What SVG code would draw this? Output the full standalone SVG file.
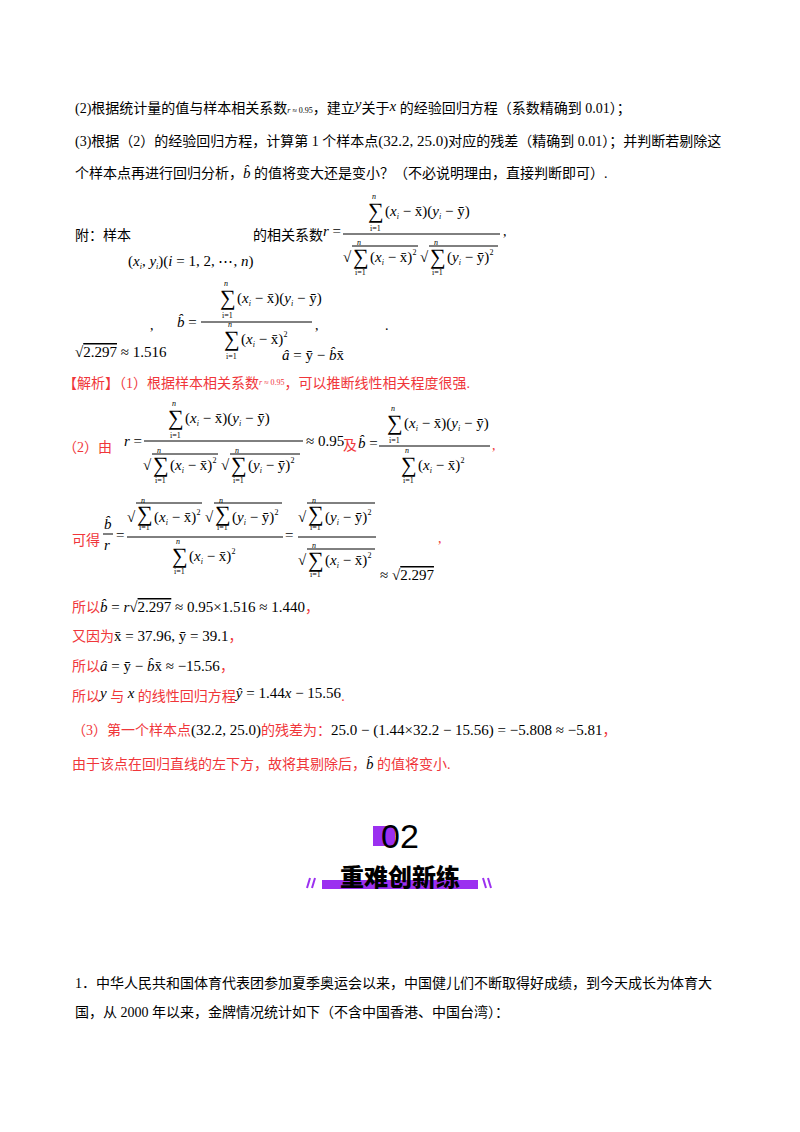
<svg xmlns="http://www.w3.org/2000/svg" width="800" height="1132" viewBox="0 0 800 1132">
<style>
text{font-family:"Liberation Serif","Noto Sans CJK SC",serif;font-size:14px;fill:#000}
.r{fill:#f0363a}
.m{font-family:"Liberation Serif",serif;font-size:15px}
.i{font-style:italic}
.s{font-size:8px;font-family:"Liberation Serif",serif}
.lo{transform:translateY(5px)}
.hi{transform:translateY(-3px)}
.sg{font-size:22px;font-family:"Liberation Serif",serif}
line.f{stroke:#000;stroke-width:1}
</style>
<rect width="800" height="1132" fill="#fff"/>
<g id="question">
<text x="75" y="113">(2)根据统计量的值与样本相关系数<tspan class="s i" font-size="9">r</tspan><tspan class="s" font-size="9"> ≈ 0.95</tspan>，建立<tspan class="m i" dy="-4">y</tspan><tspan dy="4">关于</tspan><tspan class="m i" dy="-2">x</tspan><tspan dy="2"> 的经验回归方程（系数精确到 0.01）；</tspan></text>
<text x="75" y="146">(3)根据（2）的经验回归方程，计算第 1 个样本点<tspan class="m" font-size="17">(32.2, 25.0)</tspan>对应的残差（精确到 0.01）；并判断若剔除这</text>
<text x="75" y="178">个样本点再进行回归分析，<tspan class="m i">b̂</tspan> 的值将变大还是变小？（不必说明理由，直接判断即可）.</text>
<text x="75" y="240">附：样本</text>
<text class="m" x="128" y="266">(<tspan class="i">x</tspan><tspan class="s i" dy="3">i</tspan><tspan dy="-3">, </tspan><tspan class="i">y</tspan><tspan class="s i" dy="3">i</tspan><tspan dy="-3">)(</tspan><tspan class="i">i</tspan> = 1, 2, ⋯, <tspan class="i">n</tspan>)</text>
<text x="253" y="240">的相关系数<tspan class="m i" dy="-4">r</tspan><tspan class="m" dy="0"> =</tspan></text>
<text class="sg" x="368" y="218">∑</text><text class="s i hi" x="372" y="202">n</text><text class="s lo" x="370" y="226">i=1</text>
<text class="m" x="385" y="216">(<tspan class="i">x</tspan><tspan class="s i" dy="3">i</tspan><tspan dy="-3"> − x̄)(</tspan><tspan class="i">y</tspan><tspan class="s i" dy="3">i</tspan><tspan dy="-3"> − ȳ)</tspan></text>
<line class="f" x1="343" y1="234" x2="500" y2="234"/>
<text class="m" x="343" y="262">√</text><line class="f" x1="352" y1="246" x2="418" y2="246"/>
<text class="sg" x="353" y="264">∑</text><text class="s i hi" x="357" y="248">n</text><text class="s lo" x="355" y="270">i=1</text>
<text class="m" x="370" y="262">(<tspan class="i">x</tspan><tspan class="s i" dy="3">i</tspan><tspan dy="-3"> − x̄)</tspan><tspan class="s" dy="-7">2</tspan></text>
<text class="m" x="420" y="262">√</text><line class="f" x1="429" y1="246" x2="498" y2="246"/>
<text class="sg" x="430" y="264">∑</text><text class="s i hi" x="434" y="248">n</text><text class="s lo" x="432" y="270">i=1</text>
<text class="m" x="447" y="262">(<tspan class="i">y</tspan><tspan class="s i" dy="3">i</tspan><tspan dy="-3"> − ȳ)</tspan><tspan class="s" dy="-7">2</tspan></text>
<text x="503" y="236">,</text>
<text class="m" x="75" y="357">√<tspan text-decoration="overline">2.297</tspan> ≈ 1.516</text>
<text x="150" y="330">,</text>
<text class="m" x="177" y="327"><tspan class="i">b̂</tspan> =</text>
<text class="sg" x="220" y="305">∑</text><text class="s i hi" x="224" y="289">n</text><text class="s lo" x="222" y="313">i=1</text>
<text class="m" x="237" y="303">(<tspan class="i">x</tspan><tspan class="s i" dy="3">i</tspan><tspan dy="-3"> − x̄)(</tspan><tspan class="i">y</tspan><tspan class="s i" dy="3">i</tspan><tspan dy="-3"> − ȳ)</tspan></text>
<line class="f" x1="201" y1="322" x2="312" y2="322"/>
<text class="sg" x="224" y="346">∑</text><text class="s i hi" x="228" y="330">n</text><text class="s lo" x="226" y="354">i=1</text>
<text class="m" x="241" y="344">(<tspan class="i">x</tspan><tspan class="s i" dy="3">i</tspan><tspan dy="-3"> − x̄)</tspan><tspan class="s" dy="-7">2</tspan></text>
<text x="315" y="330">,</text>
<text x="385" y="330">.</text>
<text class="m" x="282" y="360"><tspan class="i">â</tspan> = ȳ − <tspan class="i">b̂</tspan>x̄</text>
</g>
<g id="solution">
<text class="r" x="63" y="388">【解析】（1）根据样本相关系数<tspan class="s i" font-size="9" dy="-3">r</tspan><tspan class="s" font-size="9"> ≈ 0.95</tspan><tspan dy="3">，可以推断线性相关程度很强.</tspan></text>
<text class="r" x="63" y="452">（2）由</text>
<text class="m i" x="124" y="446">r <tspan font-style="normal">=</tspan></text>
<text class="sg" x="168" y="425">∑</text><text class="s i hi" x="172" y="409">n</text><text class="s lo" x="170" y="433">i=1</text>
<text class="m" x="185" y="423">(<tspan class="i">x</tspan><tspan class="s i" dy="3">i</tspan><tspan dy="-3"> − x̄)(</tspan><tspan class="i">y</tspan><tspan class="s i" dy="3">i</tspan><tspan dy="-3"> − ȳ)</tspan></text>
<line class="f" x1="144" y1="441" x2="303" y2="441"/>
<text class="m" x="143" y="470">√</text><line class="f" x1="152" y1="454" x2="218" y2="454"/>
<text class="sg" x="153" y="472">∑</text><text class="s i hi" x="157" y="456">n</text><text class="s lo" x="155" y="478">i=1</text>
<text class="m" x="170" y="470">(<tspan class="i">x</tspan><tspan class="s i" dy="3">i</tspan><tspan dy="-3"> − x̄)</tspan><tspan class="s" dy="-7">2</tspan></text>
<text class="m" x="221" y="470">√</text><line class="f" x1="230" y1="454" x2="300" y2="454"/>
<text class="sg" x="231" y="472">∑</text><text class="s i hi" x="235" y="456">n</text><text class="s lo" x="233" y="478">i=1</text>
<text class="m" x="248" y="470">(<tspan class="i">y</tspan><tspan class="s i" dy="3">i</tspan><tspan dy="-3"> − ȳ)</tspan><tspan class="s" dy="-7">2</tspan></text>
<text class="m" x="306" y="446">≈ 0.95</text>
<text class="r" x="343" y="450">及</text>
<text class="m" x="358" y="448"><tspan class="i">b̂</tspan> =</text>
<text class="sg" x="387" y="430">∑</text><text class="s i hi" x="391" y="414">n</text><text class="s lo" x="389" y="438">i=1</text>
<text class="m" x="404" y="428">(<tspan class="i">x</tspan><tspan class="s i" dy="3">i</tspan><tspan dy="-3"> − x̄)(</tspan><tspan class="i">y</tspan><tspan class="s i" dy="3">i</tspan><tspan dy="-3"> − ȳ)</tspan></text>
<line class="f" x1="379" y1="446" x2="490" y2="446"/>
<text class="sg" x="401" y="472">∑</text><text class="s i hi" x="405" y="456">n</text><text class="s lo" x="403" y="478">i=1</text>
<text class="m" x="418" y="470">(<tspan class="i">x</tspan><tspan class="s i" dy="3">i</tspan><tspan dy="-3"> − x̄)</tspan><tspan class="s" dy="-7">2</tspan></text>
<text class="r" x="492" y="450">,</text>
<text class="r" x="72" y="545">可得</text>
<text class="m i" x="104" y="529">b̂</text><line class="f" x1="103" y1="534" x2="113" y2="534"/><text class="m i" x="104" y="550">r</text>
<text class="m" x="116" y="540">=</text>
<text class="m" x="127" y="522">√</text><line class="f" x1="136" y1="503" x2="202" y2="503"/>
<text class="sg" x="137" y="521">∑</text><text class="s i hi" x="141" y="506">n</text><text class="s lo" x="139" y="525">i=1</text>
<text class="m" x="154" y="522">(<tspan class="i">x</tspan><tspan class="s i" dy="3">i</tspan><tspan dy="-3"> − x̄)</tspan><tspan class="s" dy="-7">2</tspan></text>
<text class="m" x="205" y="522">√</text><line class="f" x1="214" y1="503" x2="282" y2="503"/>
<text class="sg" x="215" y="521">∑</text><text class="s i hi" x="219" y="506">n</text><text class="s lo" x="217" y="525">i=1</text>
<text class="m" x="232" y="522">(<tspan class="i">y</tspan><tspan class="s i" dy="3">i</tspan><tspan dy="-3"> − ȳ)</tspan><tspan class="s" dy="-7">2</tspan></text>
<line class="f" x1="127" y1="537" x2="283" y2="537"/>
<text class="sg" x="172" y="563">∑</text><text class="s i hi" x="176" y="547">n</text><text class="s lo" x="174" y="569">i=1</text>
<text class="m" x="189" y="561">(<tspan class="i">x</tspan><tspan class="s i" dy="3">i</tspan><tspan dy="-3"> − x̄)</tspan><tspan class="s" dy="-7">2</tspan></text>
<text class="m" x="285" y="540">=</text>
<text class="m" x="298" y="522">√</text><line class="f" x1="307" y1="503" x2="375" y2="503"/>
<text class="sg" x="308" y="521">∑</text><text class="s i hi" x="312" y="506">n</text><text class="s lo" x="310" y="525">i=1</text>
<text class="m" x="325" y="522">(<tspan class="i">y</tspan><tspan class="s i" dy="3">i</tspan><tspan dy="-3"> − ȳ)</tspan><tspan class="s" dy="-7">2</tspan></text>
<line class="f" x1="298" y1="537" x2="376" y2="537"/>
<text class="m" x="298" y="565">√</text><line class="f" x1="307" y1="549" x2="375" y2="549"/>
<text class="sg" x="308" y="567">∑</text><text class="s i hi" x="312" y="551">n</text><text class="s lo" x="310" y="572">i=1</text>
<text class="m" x="325" y="565">(<tspan class="i">x</tspan><tspan class="s i" dy="3">i</tspan><tspan dy="-3"> − x̄)</tspan><tspan class="s" dy="-7">2</tspan></text>
<text class="m" x="380" y="580">≈ √<tspan text-decoration="overline">2.297</tspan></text>
<text class="r" x="438" y="543">,</text>
<text class="r" x="72" y="612">所以<tspan class="m i" fill="#000">b̂</tspan><tspan class="m" fill="#000"> = </tspan><tspan class="m i" fill="#000">r</tspan><tspan class="m" fill="#000">√<tspan text-decoration="overline">2.297</tspan> ≈ 0.95×1.516 ≈ 1.440</tspan>，</text>
<text class="r" x="72" y="641">又因为<tspan class="m" fill="#000">x̄ = 37.96, ȳ = 39.1</tspan>，</text>
<text class="r" x="72" y="671">所以<tspan class="m i" fill="#000">â</tspan><tspan class="m" fill="#000"> = ȳ − </tspan><tspan class="m i" fill="#000">b̂</tspan><tspan class="m" fill="#000">x̄ ≈ −15.56</tspan>，</text>
<text class="r" x="72" y="701">所以<tspan class="m i" fill="#000" dy="-3">y</tspan><tspan dy="3"> 与 </tspan><tspan class="m i" fill="#000" dy="-3">x</tspan><tspan dy="3"> 的线性回归方程</tspan><tspan class="m" fill="#000" dy="-3"><tspan class="i">ŷ</tspan> = 1.44<tspan class="i">x</tspan> − 15.56</tspan><tspan dy="3">.</tspan></text>
<text class="r" x="72" y="735">（3）第一个样本点<tspan class="m" fill="#000" font-size="17">(32.2, 25.0)</tspan>的残差为：<tspan class="m" fill="#000">25.0 − (1.44×32.2 − 15.56) = −5.808 ≈ −5.81</tspan>，</text>
<text class="r" x="72" y="769">由于该点在回归直线的左下方，故将其剔除后，<tspan class="m i" fill="#000">b̂</tspan> 的值将变小.</text>
</g>
<g id="badge">
<rect x="373" y="826" width="22" height="20" fill="#9b30f0"/>
<text x="400" y="848" text-anchor="middle" style="font-family:'Liberation Sans',sans-serif;font-size:34px" fill="#111">02</text>
<rect x="322" y="880" width="156" height="9" fill="#9b30f0"/>
<text x="400" y="886" text-anchor="middle" style="font-family:'Noto Sans CJK SC',sans-serif;font-size:24px;font-weight:900" fill="#111">重难创新练</text>
<g stroke="#9b30f0" stroke-width="2"><line x1="307" y1="888" x2="310" y2="878"/><line x1="312" y1="888" x2="315" y2="878"/><line x1="483" y1="878" x2="486" y2="888"/><line x1="488" y1="878" x2="491" y2="888"/></g>
</g>
<g id="q1">
<text x="75" y="988">1．中华人民共和国体育代表团参加夏季奥运会以来，中国健儿们不断取得好成绩，到今天成长为体育大</text>
<text x="75" y="1017">国，从 2000 年以来，金牌情况统计如下（不含中国香港、中国台湾）：</text>
</g>
<g id="connectors"/>
</svg>
